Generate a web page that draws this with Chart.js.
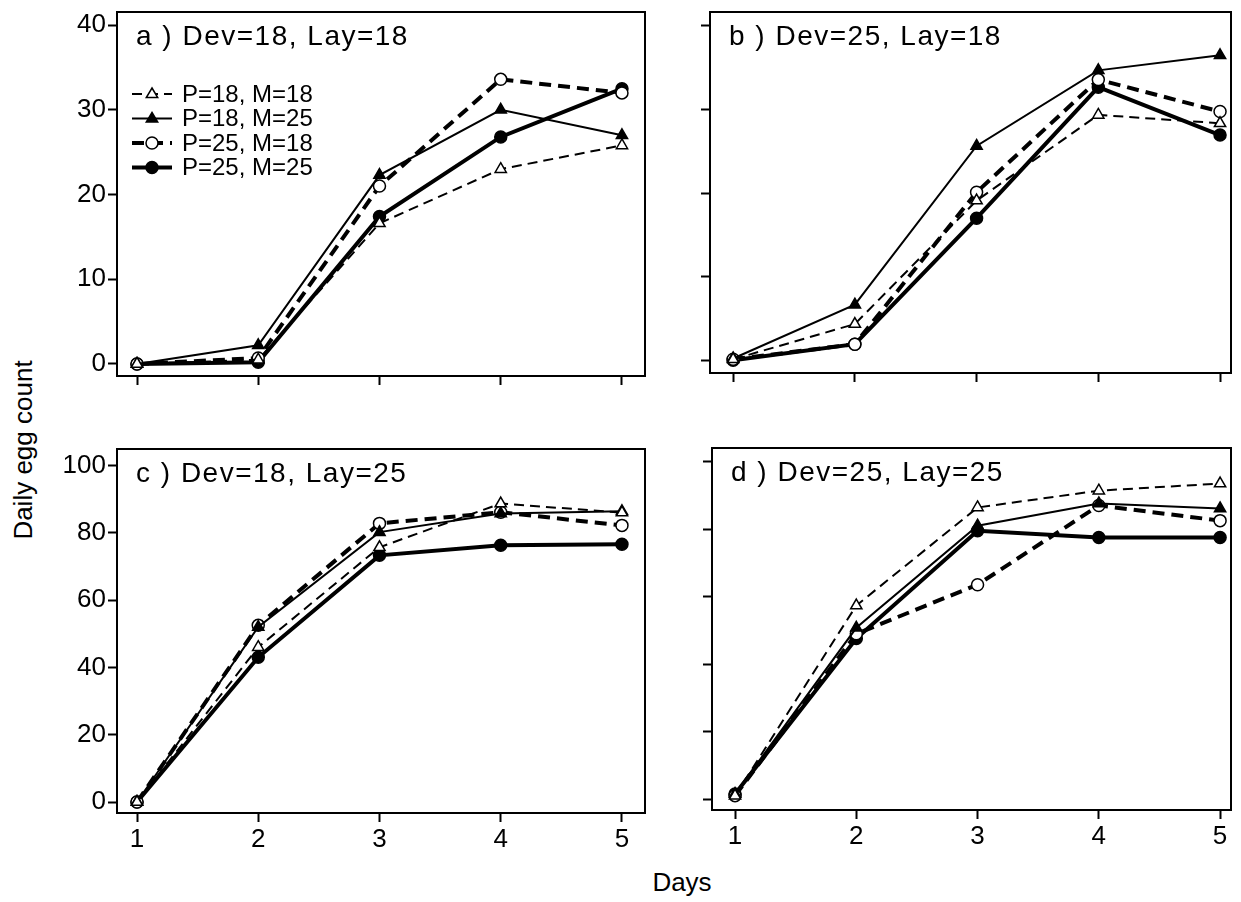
<!DOCTYPE html>
<html>
<head>
<meta charset="utf-8">
<script src="https://cdn.jsdelivr.net/npm/chart.js@4.4.1/dist/chart.umd.min.js"></script>
<style>
  body { margin: 0; background: #fff; width: 1241px; height: 902px; position: relative; overflow: hidden; font-family: "Liberation Sans", Arial, sans-serif; }
  .panel { position: absolute; }
  .lbl { position: absolute; color: #000; white-space: nowrap; }
</style>
</head>
<body>
<div class="lbl" id="ylab" style="left:23px; top:450px; font-size:26px; transform: translate(-50%,-50%) rotate(-90deg);">Daily egg count</div>
<div class="lbl" id="xlab" style="left:682px; top:882px; font-size:26px; transform: translate(-50%,-50%);">Days</div>

<div class="panel" id="pa"><canvas id="ca"></canvas></div>
<div class="panel" id="pb"><canvas id="cb"></canvas></div>
<div class="panel" id="pc"><canvas id="cc"></canvas></div>
<div class="panel" id="pd"><canvas id="cd"></canvas></div>

<script>
// data
const days = [1, 2, 3, 4, 5];
const seriesNames = ["P=18, M=18", "P=18, M=25", "P=25, M=18", "P=25, M=25"];
const ticksTop = [0, 10, 20, 30, 40];
const ticksBottom = [0, 20, 40, 60, 80, 100];

// a) Dev=18, Lay=18
const a_p18m18 = [0, 0.5, 16.6, 23.0, 25.8];
const a_p18m25 = [0, 2.2, 22.3, 30.0, 27.0];
const a_p25m18 = [0, 0.7, 21.0, 33.6, 32.0];
const a_p25m25 = [0, 0.2, 17.4, 26.8, 32.5];

// b) Dev=25, Lay=18
const b_p18m18 = [0.2, 4.4, 19.1, 29.3, 28.3];
const b_p18m25 = [0.3, 6.7, 25.6, 34.6, 36.4];
const b_p25m18 = [0.2, 2.0, 20.1, 33.5, 29.7];
const b_p25m25 = [0.1, 2.0, 17.0, 32.6, 26.9];

// c) Dev=18, Lay=25
const c_p18m18 = [0, 46, 75.7, 88.7, 86.0];
const c_p18m25 = [0, 52, 80.2, 85.7, 86.4];
const c_p25m18 = [0, 52.5, 82.8, 86.1, 82.2];
const c_p25m25 = [0, 43, 73.3, 76.3, 76.6];

// d) Dev=25, Lay=25
const d_p18m18 = [1.0, 57.4, 86.5, 91.5, 93.6];
const d_p18m25 = [1.5, 50.8, 81.1, 87.7, 86.2];
const d_p25m18 = [1.0, 49.0, 63.6, 87.1, 82.6];
const d_p25m25 = [1.5, 47.6, 79.6, 77.6, 77.6];

const FONT = "'Liberation Sans', Arial, sans-serif";
const AX = 90, AB = 70, PT = 22, PR = 12;

// line / marker look per series
const looks = [
  { borderWidth: 2, borderDash: [10, 6], pointStyle: "triangle", fill: "#fff" },
  { borderWidth: 2, borderDash: [], pointStyle: "triangle", fill: "#000" },
  { borderWidth: 4, borderDash: [12, 7], pointStyle: "circle", fill: "#fff" },
  { borderWidth: 4, borderDash: [], pointStyle: "circle", fill: "#000" }
];

function marker(ctx, style, fill, x, y, r) {
  ctx.save();
  ctx.setLineDash([]);
  ctx.lineWidth = 1.5;
  ctx.strokeStyle = "#000";
  ctx.fillStyle = fill;
  ctx.beginPath();
  if (style === "circle") {
    ctx.arc(x, y, r, 0, Math.PI * 2);
  } else {
    ctx.moveTo(x, y - r);
    ctx.lineTo(x + r * 0.95, y + r * 0.6);
    ctx.lineTo(x - r * 0.95, y + r * 0.6);
    ctx.closePath();
  }
  ctx.fill();
  ctx.stroke();
  ctx.restore();
}

// box frame, panel title and (panel a only) the legend
const framePlugin = {
  id: "frame",
  afterDraw(chart, args, opts) {
    const { ctx, chartArea: ca } = chart;
    ctx.save();
    ctx.strokeStyle = "#000";
    ctx.lineWidth = 2;
    ctx.strokeRect(ca.left, ca.top, ca.right - ca.left, ca.bottom - ca.top);
    ctx.fillStyle = "#000";
    ctx.font = "28px " + FONT;
    ctx.letterSpacing = "1.5px";
    ctx.textBaseline = "alphabetic";
    ctx.fillText(opts.title, ca.left + 19, ca.top + 33);
    ctx.letterSpacing = "0px";
    if (opts.legend) {
      ctx.font = "24px " + FONT;
      ctx.textBaseline = "middle";
      chart.data.datasets.forEach((ds, i) => {
        const y = ca.top + 82 + 24.5 * i;
        const x0 = ca.left + 15, x1 = ca.left + 55;
        ctx.save();
        ctx.lineWidth = ds.borderWidth;
        ctx.setLineDash(ds.borderDash);
        ctx.beginPath();
        ctx.moveTo(x0, y);
        ctx.lineTo(x1, y);
        ctx.stroke();
        ctx.restore();
        marker(ctx, ds.pointStyle, ds.pointBackgroundColor, (x0 + x1) / 2, y, 6);
        ctx.fillText(ds.label, ca.left + 65, y + 1);
      });
    }
    ctx.restore();
  }
};

function makePanel(divId, canvasId, box, xr, yr, yTicks, series, title, showY, showX, legend) {
  const w = box.right - box.left + AX + PR;
  const h = box.bottom - box.top + AB + PT;
  const div = document.getElementById(divId);
  div.style.left = (box.left - AX) + "px";
  div.style.top = (box.top - PT) + "px";
  const cv = document.getElementById(canvasId);
  cv.width = w; cv.height = h;
  cv.style.width = w + "px"; cv.style.height = h + "px";

  const datasets = series.map((vals, i) => ({
    label: seriesNames[i],
    data: days.map((d, k) => ({ x: d, y: vals[k] })),
    borderColor: "#000",
    borderWidth: looks[i].borderWidth,
    borderDash: looks[i].borderDash,
    pointStyle: looks[i].pointStyle,
    pointRadius: looks[i].pointStyle === "circle" ? 6 : 6.5,
    pointBorderWidth: 1.5,
    pointBorderColor: "#000",
    pointBackgroundColor: looks[i].fill,
    tension: 0,
    fill: false
  }));

  new Chart(cv, {
    type: "line",
    data: { datasets },
    options: {
      responsive: false,
      animation: false,
      devicePixelRatio: 1,
      layout: { padding: { top: PT, right: PR, left: 0, bottom: 0 } },
      scales: {
        x: {
          type: "linear",
          min: xr[0], max: xr[1],
          afterBuildTicks: s => { s.ticks = days.map(v => ({ value: v })); },
          afterFit: s => { s.height = AB; },
          ticks: { display: showX, color: "#000", font: { family: FONT, size: 26 }, padding: 2, maxRotation: 0 },
          grid: { drawOnChartArea: false, drawTicks: true, tickLength: 9, tickColor: "#000", tickWidth: 2 },
          border: { display: true, color: "#000", width: 2 }
        },
        y: {
          min: yr[0], max: yr[1],
          afterBuildTicks: s => { s.ticks = yTicks.map(v => ({ value: v })); },
          afterFit: s => { s.width = AX; },
          ticks: { display: showY, color: "#000", font: { family: FONT, size: 26 }, padding: 2 },
          grid: { drawOnChartArea: false, drawTicks: true, tickLength: 9, tickColor: "#000", tickWidth: 2 },
          border: { display: true, color: "#000", width: 2 }
        }
      },
      plugins: {
        legend: { display: false },
        tooltip: { enabled: false },
        frame: { title, legend }
      }
    },
    plugins: [framePlugin]
  });
}

makePanel("pa", "ca", { left: 117, right: 645, top: 12, bottom: 376 }, [0.835, 5.19], [-1.42, 41.55], ticksTop,
  [a_p18m18, a_p18m25, a_p25m18, a_p25m25], "a ) Dev=18, Lay=18", true, false, true);
makePanel("pb", "cb", { left: 710, right: 1231, top: 12, bottom: 373 }, [0.81, 5.09], [-1.43, 41.55], ticksTop,
  [b_p18m18, b_p18m25, b_p25m18, b_p25m25], "b ) Dev=25, Lay=18", false, false, false);
makePanel("pc", "cc", { left: 117, right: 645, top: 449, bottom: 813 }, [0.835, 5.19], [-3.26, 104.9], ticksBottom,
  [c_p18m18, c_p18m25, c_p25m18, c_p25m25], "c ) Dev=18, Lay=25", true, true, false);
makePanel("pd", "cd", { left: 712, right: 1231, top: 448, bottom: 810 }, [0.81, 5.09], [-3.26, 104.15], ticksBottom,
  [d_p18m18, d_p18m25, d_p25m18, d_p25m25], "d ) Dev=25, Lay=25", false, true, false);
</script>
</body>
</html>
